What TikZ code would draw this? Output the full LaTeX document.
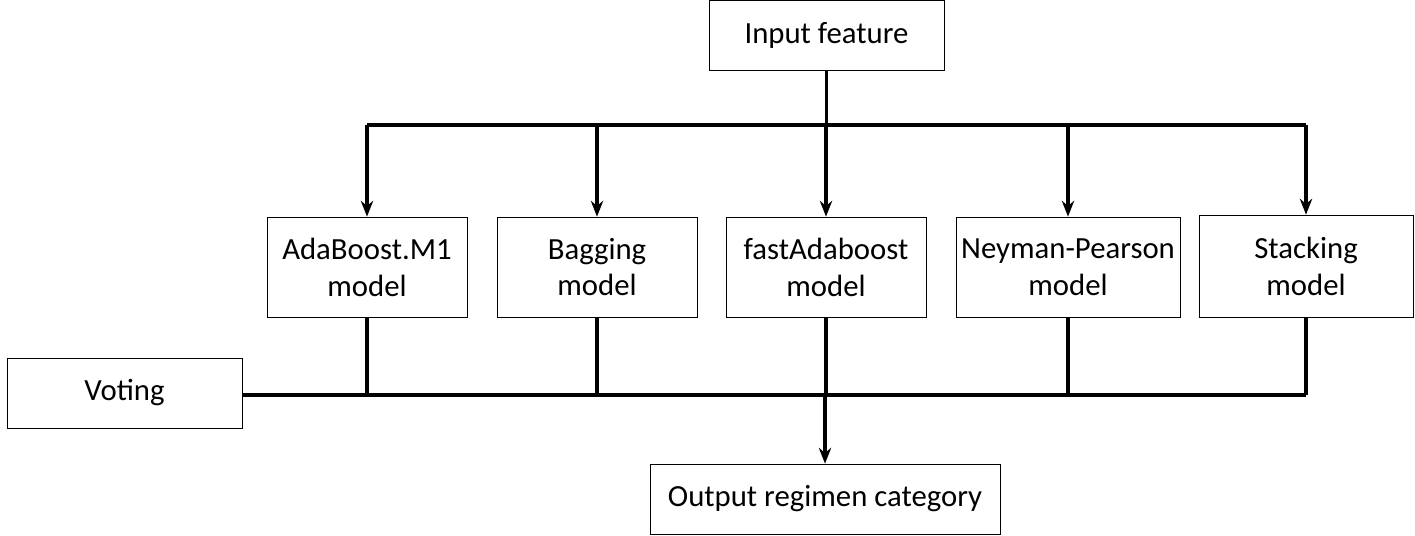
\documentclass[tikz,border=0pt]{standalone}
\usepackage{fontspec}
\setmainfont{Carlito}
\usetikzlibrary{arrows.meta}

\begin{document}
\begin{tikzpicture}[
    x=0.02cm, y=-0.02cm,
    box/.style={draw, thin, align=center, inner sep=0pt, font=\fontsize{17.5}{21}\selectfont},
    bus line/.style={line width=2pt},
    pile/.style={line width=2pt, -{Stealth[length=9pt,width=7pt]}}
    ]
    \useasboundingbox (0,0) rectangle (1415,536);
    % Boxes
    \node[box, minimum width=235*0.02cm, minimum height=70*0.02cm] (input) at (826.5,35) {Input feature};
    \node[box, minimum width=200*0.02cm, minimum height=100*0.02cm] (ada) at (367,267) {AdaBoost.M1\\model};
    \node[box, minimum width=200*0.02cm, minimum height=100*0.02cm] (bag) at (597,267) {Bagging\\model};
    \node[box, minimum width=200*0.02cm, minimum height=100*0.02cm] (fast) at (826,267) {fastAdaboost\\model};
    \node[box, minimum width=224*0.02cm, minimum height=100*0.02cm] (ney) at (1068,267) {Neyman-Pearson\\model};
    \node[box, minimum width=214*0.02cm, minimum height=102*0.02cm] (stack) at (1306,266) {Stacking\\model};
    \node[box, minimum width=235*0.02cm, minimum height=70*0.02cm] (vote) at (124.5,393) {Voting};
    \node[box, minimum width=350*0.02cm, minimum height=70*0.02cm] (out) at (825,499) {Output regimen category};
    % Top bus
    \coordinate (tl) at (367,125);
    \coordinate (tr) at (1306,125);
    \draw[bus line] (input.south) -- (input.south |- tl);
    \draw[bus line] (tl) -- (tr);
    \foreach \m in {ada,bag,fast,ney,stack}
        \draw[pile] (tl -| \m.north) -- (\m.north);
    % Bottom bus
    \coordinate (br) at (1306,395);
    \draw[bus line] (vote.east |- br) -- (br);
    \foreach \m in {ada,bag,fast,ney,stack}
        \draw[bus line] (\m.south) -- (\m.south |- br);
    \draw[pile] (out.north |- br) -- (out.north);
\end{tikzpicture}
\end{document}
